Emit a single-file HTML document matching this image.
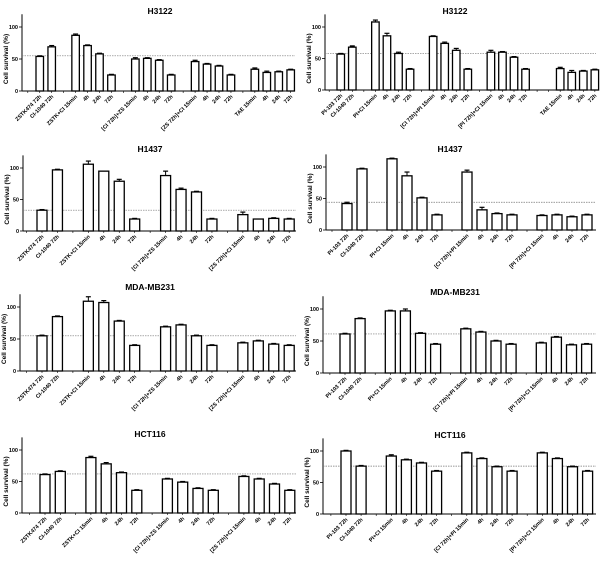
<!DOCTYPE html>
<html><head><meta charset="utf-8">
<style>
html,body{margin:0;padding:0;background:#fff;}
svg{display:block;font-family:"Liberation Sans",Arial,sans-serif;}
</style></head>
<body>
<svg id="fig" width="600" height="569" viewBox="0 0 600 569"></svg>
<script>
// ---- categories ----
const catsZS = ["ZSTK474 72h","CI-1040 72h","ZSTK+CI 15min","4h","24h","72h","[CI 72h]+ZS 15min","4h","24h","72h","[ZS 72h]+CI 15min","4h","24h","72h"];
const catsPI = ["PI-103 72h","CI-1040 72h","PI+CI 15min","4h","24h","72h","[CI 72h]+PI 15min","4h","24h","72h","[PI 72h]+CI 15min","4h","24h","72h"];
const catsTAE = ["TAE 15min","4h","24h","72h"];
const yTicks = [0,50,100];
// ---- series values ----
const h3122L = [54,69,87,71,58,25,50,51,48,25,46,42,39,25,34,29,30,33];
const h3122LErr = [1,2,2,1,1,1,2,1,1,1,2,1,1,1,2,2,1,1];
const h3122LRef = 55;
const h3122R = [57,68,108,86,58,33,85,74,63,33,60,60,52,33,34,28,30,32];
const h3122RErr = [1,2,3,4,2,1,1,2,3,1,3,1,1,1,2,3,1,1];
const h3122RRef = 58;
const h1437L = [33,97,106,95,79,19,88,66,62,19,26,19,20,19];
const h1437LErr = [1,1,5,0,3,1,7,2,1,1,4,0,1,1];
const h1437LRef = 33;
const h1437R = [42,97,113,86,51,24,92,32,26,24,23,24,21,24];
const h1437RErr = [2,1,1,6,1,1,3,4,1,1,1,1,1,1];
const h1437RRef = 44;
const mdaL = [55,85,109,107,78,40,69,72,55,40,44,47,42,40];
const mdaLErr = [1,1,7,3,1,1,1,1,1,1,1,1,1,1];
const mdaLRef = 55;
const mdaR = [61,85,97,97,62,45,69,64,50,45,47,56,44,45];
const mdaRErr = [1,1,1,3,1,1,1,1,1,1,1,1,1,1];
const mdaRRef = 61;
const hctL = [61,66,88,78,64,36,54,49,39,36,58,54,46,36];
const hctLErr = [1,1,2,2,1,1,1,1,1,1,1,1,1,1];
const hctLRef = 62;
const hctR = [100,76,92,86,81,68,97,88,75,68,97,88,75,68];
const hctRErr = [1,1,2,1,1,1,1,1,1,1,1,1,1,1];
const hctRRef = 76;

const NS="http://www.w3.org/2000/svg";
const svg=document.getElementById('fig');
function mk(tag,attrs,parent){const e=document.createElementNS(NS,tag);for(const k in attrs)e.setAttribute(k,attrs[k]);(parent||svg).appendChild(e);return e;}

function panel(p){
  const g=mk('g',{});
  
  
  const yS=v=>p.y0-(p.y0-p.y100)*v/100;
  const xS=s=>p.x0+p.pitch*s;
  const t=mk('text',{x:p.tx,y:p.ty,'font-size':8.5,'font-weight':'bold','text-anchor':'middle'},g);
  t.textContent=p.title;
  
  
  const yl=mk('text',{transform:`translate(${p.ax-14},${yS(50)}) rotate(-90)`,'font-size':6.5,'font-weight':'bold','text-anchor':'middle'},g);
  yl.textContent='Cell survival (%)';
  
  
  const ya=mk('line',{x1:p.ax,x2:p.ax,y1:yS(120),y2:p.y0,stroke:'#000','stroke-width':1},g);
  
  
  const xa=mk('line',{x1:p.ax,x2:p.xend,y1:p.y0,y2:p.y0,stroke:'#000','stroke-width':1},g);
  
  
  yTicks.forEach(v=>{
    mk('line',{x1:p.ax-3,x2:p.ax,y1:yS(v),y2:yS(v),stroke:'#000','stroke-width':0.8},g);
    const tl=mk('text',{x:p.ax-4,y:yS(v)+2,'font-size':5.5,'font-weight':'bold','text-anchor':'end'},g);
    tl.textContent=v;
    
    
  });
  const nSlots=p.slots[p.slots.length-1]+2;
  for(let s=-1;s<nSlots;s++){
    const tx=xS(s)+p.bw/2;
    if(tx<p.ax||tx>p.xend) continue;
    mk('line',{x1:tx,x2:tx,y1:p.y0,y2:p.y0+2,stroke:'#000','stroke-width':0.6},g);
  }
  const rl=mk('line',{x1:p.ax,x2:p.xend,y1:yS(p.ref),y2:yS(p.ref),stroke:'#777','stroke-width':0.7,'stroke-dasharray':'1.5,1'},g);
  
  
  p.vals.forEach((v,i)=>{
    const x=xS(p.slots[i]);
    const e=p.errs[i];
    const cx=x+p.bw/2;
    if(e>0){
      mk('line',{x1:cx,x2:cx,y1:yS(v),y2:yS(v+e),stroke:'#000','stroke-width':1},g);
      mk('line',{x1:cx-2.5,x2:cx+2.5,y1:yS(v+e),y2:yS(v+e),stroke:'#000','stroke-width':1.2},g);
    }
    const r=mk('rect',{x:x,y:yS(v),width:p.bw,height:p.y0-yS(v),fill:'#fff',stroke:'#000','stroke-width':1.3},g);
    
    
    const lb=mk('text',{transform:`translate(${cx+2},${p.y0+6}) rotate(-45)`,'font-size':5.5,'font-weight':'bold','text-anchor':'end'},g);
    lb.textContent=p.cats[i];
    
    
  });
}
const s18=[0,1,3,4,5,6,8,9,10,11,13,14,15,16,18,19,20,21];
const s18b=[0,1,3,4,5,6,8,9,10,11,13,14,15,16,19,20,21,22];
const s14=[0,1,3,4,5,6,8,9,10,11,13,14,15,16];
panel({name:'panel-h3122-zs',title:'H3122',tx:160,ty:14,ax:22,xend:295,x0:36,pitch:11.95,bw:7.5,y0:91,y100:27,slots:s18,vals:h3122L,errs:h3122LErr,ref:h3122LRef,cats:catsZS.concat(catsTAE)});
panel({name:'panel-h3122-pi',title:'H3122',tx:455,ty:14,ax:325,xend:596,x0:337,pitch:11.55,bw:7.5,y0:90,y100:27,slots:s18b,vals:h3122R,errs:h3122RErr,ref:h3122RRef,cats:catsPI.concat(catsTAE)});
panel({name:'panel-h1437-zs',title:'H1437',tx:150,ty:152,ax:23,xend:296,x0:37,pitch:15.45,bw:10,y0:231,y100:168,slots:s14,vals:h1437L,errs:h1437LErr,ref:h1437LRef,cats:catsZS});
panel({name:'panel-h1437-pi',title:'H1437',tx:450,ty:152,ax:326,xend:596,x0:342,pitch:15,bw:10,y0:230,y100:167,slots:s14,vals:h1437R,errs:h1437RErr,ref:h1437RRef,cats:catsPI});
panel({name:'panel-mda-zs',title:'MDA-MB231',tx:150,ty:290,ax:20,xend:296,x0:37,pitch:15.45,bw:10,y0:371,y100:307,slots:s14,vals:mdaL,errs:mdaLErr,ref:mdaLRef,cats:catsZS});
panel({name:'panel-mda-pi',title:'MDA-MB231',tx:455,ty:295,ax:323,xend:596,x0:340,pitch:15.1,bw:10,y0:373,y100:309,slots:s14,vals:mdaR,errs:mdaRErr,ref:mdaRRef,cats:catsPI});
panel({name:'panel-hct116-zs',title:'HCT116',tx:150,ty:437,ax:22,xend:296,x0:40,pitch:15.3,bw:10,y0:513,y100:450,slots:s14,vals:hctL,errs:hctLErr,ref:hctLRef,cats:catsZS});
panel({name:'panel-hct116-pi',title:'HCT116',tx:450,ty:438,ax:323,xend:596,x0:341,pitch:15.1,bw:10,y0:514,y100:451,slots:s14,vals:hctR,errs:hctRErr,ref:hctRRef,cats:catsPI});
</script>
</body></html>
